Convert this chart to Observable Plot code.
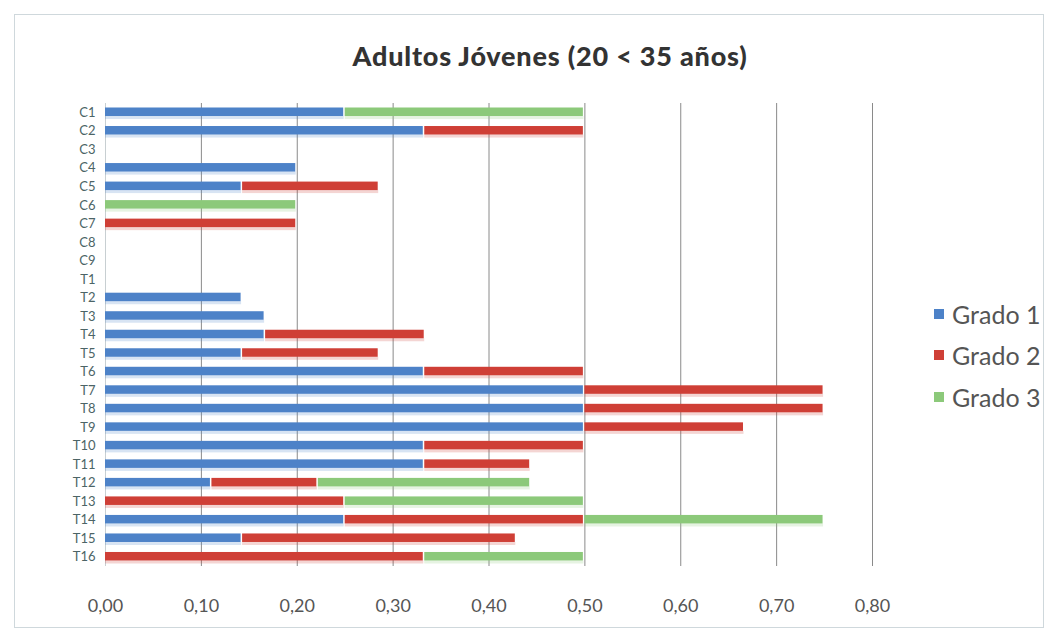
<!DOCTYPE html>
<html>
<head>
<meta charset="utf-8">
<script src="https://cdn.jsdelivr.net/npm/d3@7"></script>
<script src="https://cdn.jsdelivr.net/npm/@observablehq/plot@0.6"></script>
<style>
  html, body { margin: 0; padding: 0; background: #fff; }
  #wrap { position: relative; width: 1060px; height: 642px; font-family: Lato, "Open Sans", sans-serif; }
  #frame { position: absolute; left: 14px; top: 14px; width: 1030px; height: 614px; border: 1px solid #cfd8dc; box-sizing: border-box; }
  #title { position: absolute; left: 20px; width: 1060px; top: 39px; text-align: center; font-weight: 900; font-size: 27px; color: #333; letter-spacing: 0.8px; }
  #legend { position: absolute; left: 934px; top: 293px; font-size: 25px; color: #555; }
  #legend .item { display: flex; align-items: center; height: 41.5px; }
  #legend .sw { width: 10px; height: 10px; margin-right: 8px; }
  #chart { position: absolute; left: 0; top: 0; }
</style>
</head>
<body>
<div id="wrap">
  <div id="frame"></div>
  <div id="title">Adultos Jóvenes (20 &lt; 35 años)</div>
  <div id="chart"></div>
  <div id="legend"></div>
</div>
<script>
// Categories, top to bottom
const categories = ["C1","C2","C3","C4","C5","C6","C7","C8","C9",
  "T1","T2","T3","T4","T5","T6","T7","T8","T9","T10","T11","T12","T13","T14","T15","T16"];

// Proportions per category for each degree
const grado1 = [0.25, 0.333, 0, 0.2, 0.143, 0, 0, 0, 0,
  0, 0.143, 0.167, 0.167, 0.143, 0.333, 0.5, 0.5, 0.5, 0.333, 0.333, 0.111, 0, 0.25, 0.143, 0];
const grado2 = [0, 0.167, 0, 0, 0.143, 0, 0.2, 0, 0,
  0, 0, 0, 0.167, 0.143, 0.167, 0.25, 0.25, 0.167, 0.167, 0.111, 0.111, 0.25, 0.25, 0.286, 0.333];
const grado3 = [0.25, 0, 0, 0, 0, 0.2, 0, 0, 0,
  0, 0, 0, 0, 0, 0, 0, 0, 0, 0, 0, 0.222, 0.25, 0.25, 0, 0.167];

const seriesNames = ["Grado 1", "Grado 2", "Grado 3"];
const seriesColors = ["#4d82c8", "#cf3f36", "#8cc97a"];
const xTicks = [0, 0.1, 0.2, 0.3, 0.4, 0.5, 0.6, 0.7, 0.8];

// Long table: one row per category and degree, degree order kept for stacking
const rows = [];
categories.forEach((c, i) => {
  [grado1, grado2, grado3].forEach((s, k) => {
    if (s[i] > 0) rows.push({categoria: c, grado: seriesNames[k], valor: s[i]});
  });
});

const fmt = v => v.toFixed(2).replace(".", ",");

const chart = Plot.plot({
  width: 1060,
  height: 642,
  marginLeft: 105,
  marginRight: 188,
  marginTop: 103,
  marginBottom: 76,
  style: {fontFamily: "Lato, 'Open Sans', sans-serif", background: "transparent"},
  x: {domain: [0, 0.8], ticks: xTicks, tickFormat: fmt, label: null},
  y: {domain: categories, label: null, padding: 0, round: false},
  color: {domain: seriesNames, range: seriesColors},
  marks: [
    Plot.gridX(xTicks.slice(1), {stroke: "#8a8a8a", strokeOpacity: 1, strokeWidth: 1}),
    Plot.ruleX([0], {stroke: "#c8cfd2"}),
    // faint reflection under each bar
    Plot.barX(rows, Plot.stackX({x: "valor", y: "categoria", fill: "grado",
      insetTop: 13, insetBottom: 2.5, insetRight: 1, fillOpacity: 0.22})),
    Plot.barX(rows, Plot.stackX({x: "valor", y: "categoria", fill: "grado",
      insetTop: 4.5, insetBottom: 5.5, insetRight: 1.5})),
    Plot.axisX({ticks: xTicks, tickFormat: fmt, tickSize: 0, tickPadding: 33,
      fontSize: 18, fill: "#555", label: null}),
    Plot.axisY({tickSize: 0, tickPadding: 10, fontSize: 13, fill: "#4c6466", label: null})
  ]
});
document.getElementById("chart").appendChild(chart);

const legend = document.getElementById("legend");
seriesNames.forEach((n, k) => {
  const it = document.createElement("div");
  it.className = "item";
  const sw = document.createElement("span");
  sw.className = "sw";
  sw.style.background = seriesColors[k];
  const tx = document.createElement("span");
  tx.textContent = n;
  it.appendChild(sw); it.appendChild(tx);
  legend.appendChild(it);
});
</script>
</body>
</html>
